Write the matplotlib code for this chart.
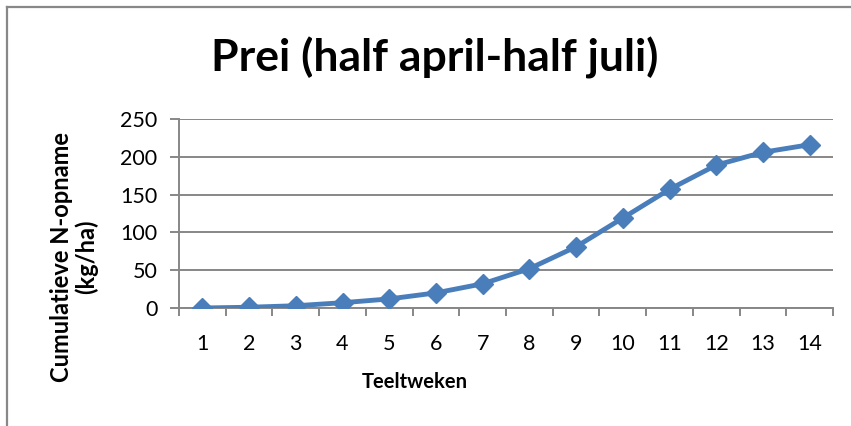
import numpy as np
import matplotlib
matplotlib.use("Agg")
import matplotlib.pyplot as plt
from matplotlib.lines import Line2D

weeks = ["1", "2", "3", "4", "5", "6", "7", "8", "9", "10", "11", "12", "13", "14"]
n_uptake = [0, 1, 3, 7, 12, 20, 32, 52, 81, 119, 157, 189, 206, 216]

TITLE = "Prei (half april-half juli)"
XLABEL = "Teeltweken"
YLABEL = "Cumulatieve N-opname\n(kg/ha)"

plt.rcParams['font.family'] = ['Lato', 'DejaVu Sans']

fig = plt.figure(figsize=(8.51, 4.26), dpi=100)
ax = fig.add_axes([179 / 851, 118 / 426, 654 / 851, 189 / 426])

x = np.arange(len(weeks))
ax.plot(x, n_uptake, color="#4A7EBB", linewidth=3.5, marker="D", markersize=10,
        markeredgecolor="#4A7EBB", zorder=3)

ax.set_xlim(-0.5, len(weeks) - 0.5)
ax.set_ylim(0, 250)
ax.set_yticks(np.arange(0, 251, 50))
ax.set_xticks(x)
ax.set_xticklabels(weeks)
ax.set_xticks(np.arange(-0.5, len(weeks), 1), minor=True)

grid_col = "#878787"
ax.yaxis.grid(True, color=grid_col, linewidth=1.4)
ax.set_axisbelow(True)
for s in ["top", "right"]:
    ax.spines[s].set_visible(False)
for s in ["left", "bottom"]:
    ax.spines[s].set_color(grid_col)
    ax.spines[s].set_linewidth(1.4)

ax.tick_params(axis="y", length=6.5, width=1.4, color=grid_col, pad=9, labelsize=15.5)
ax.tick_params(axis="x", which="major", length=0, pad=19, labelsize=15.5)
ax.tick_params(axis="x", which="minor", length=6, width=1.4, color=grid_col)

fig.text(435 / 851, 1 - 58 / 426, TITLE, ha="center", va="center",
         fontsize=32, fontweight="bold")
fig.text(415 / 851, 1 - 382 / 426, XLABEL, ha="center", va="center",
         fontsize=14.5, fontweight="bold")
fig.text(74 / 851, 1 - 257 / 426, YLABEL, ha="center", va="center",
         rotation=90, fontsize=17, fontweight="bold", linespacing=1.05)

# chart area border (only top and left edges visible in the crop)
border = "#888888"
fig.add_artist(Line2D([7 / 851, 1], [1 - 7 / 426, 1 - 7 / 426], color=border,
                      linewidth=1.6, transform=fig.transFigure))
fig.add_artist(Line2D([7 / 851, 7 / 851], [0, 1 - 7 / 426], color=border,
                      linewidth=1.6, transform=fig.transFigure))

fig.savefig("out.png", dpi=100)
